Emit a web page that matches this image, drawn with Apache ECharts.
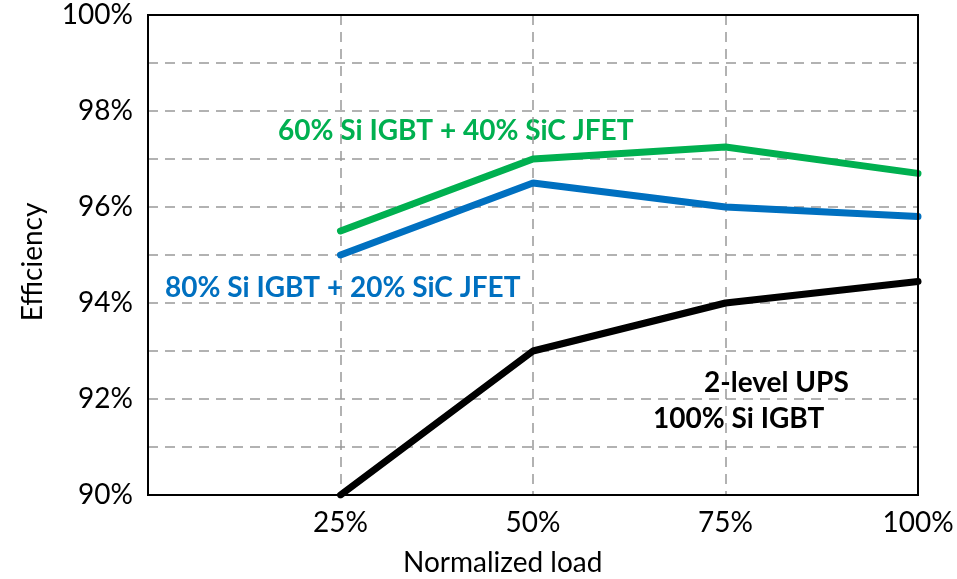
<!DOCTYPE html>
<html>
<head>
<meta charset="utf-8">
<script src="https://cdn.jsdelivr.net/npm/echarts@6/dist/echarts.min.js"></script>
<style>html,body{margin:0;padding:0;background:#fff;}#c{width:957px;height:579px;}</style>
</head>
<body>
<div id="c"></div>
<script>
var loads = [25, 50, 75, 100];
var xTicks = ['25%', '50%', '75%', '100%'];
var green = [95.5, 97.0, 97.25, 96.7];
var blue = [95.0, 96.5, 96.0, 95.8];
var black = [90.0, 93.0, 94.0, 94.45];
var yTicks = ['90%', '92%', '94%', '96%', '98%', '100%'];

function pairs(v) { return loads.map(function (x, i) { return [x, v[i]]; }); }

var chart = echarts.init(document.getElementById('c'));
var FONT = 'Lato';
var GL = 148, GT = 15, GR = 39, GB = 84;
chart.setOption({
  animation: false,
  grid: { left: GL, right: GR, top: GT, bottom: GB },
  xAxis: {
    type: 'value', min: 0, max: 100, interval: 25,
    axisLine: { show: false }, axisTick: { show: false },
    axisLabel: { fontFamily: FONT, fontSize: 28, color: '#000', margin: 14,
      formatter: function (v) { var i = loads.indexOf(v); return i >= 0 ? xTicks[i] : ''; } },
    splitLine: { show: true, lineStyle: { color: '#999', type: [10, 7], width: 1.5 } }
  },
  yAxis: {
    type: 'value', min: 90, max: 100, interval: 1,
    axisLine: { show: false }, axisTick: { show: false },
    axisLabel: { fontFamily: FONT, fontSize: 28, color: '#000', margin: 15,
      formatter: function (v) { var s = Math.round(v) + '%'; return yTicks.indexOf(s) >= 0 ? s : ''; } },
    splitLine: { show: true, lineStyle: { color: '#999', type: [10, 7], width: 1.5 } }
  },
  series: [
    { type: 'line', data: pairs(green), symbol: 'none', lineStyle: { color: '#00B050', width: 7, cap: 'round' } },
    { type: 'line', data: pairs(blue), symbol: 'none', lineStyle: { color: '#0070C0', width: 7, cap: 'round' } },
    { type: 'line', data: pairs(black), symbol: 'none', lineStyle: { color: '#000', width: 7, cap: 'round' } }
  ],
  graphic: [
    { type: 'rect', z: 100, silent: true, shape: { x: GL, y: GT, width: 957 - GL - GR, height: 579 - GT - GB },
      style: { fill: 'none', stroke: '#000', lineWidth: 2 } },
    { type: 'text', x: 278, y: 131, style: { text: '60% Si IGBT + 40% SiC JFET', fill: '#00B050', font: 'bold 28px Lato', verticalAlign: 'middle' } },
    { type: 'text', x: 165, y: 288, style: { text: '80% Si IGBT + 20% SiC JFET', fill: '#0070C0', font: 'bold 28px Lato', verticalAlign: 'middle' } },
    { type: 'text', x: 704, y: 383, style: { text: '2-level UPS', fill: '#000', font: 'bold 28px Lato', verticalAlign: 'middle' } },
    { type: 'text', x: 653, y: 419, style: { text: '100% Si IGBT', fill: '#000', font: 'bold 28px Lato', verticalAlign: 'middle' } },
    { type: 'text', x: 403, y: 563, style: { text: 'Normalized load', fill: '#000', font: '28px Lato', verticalAlign: 'middle' } },
    { type: 'text', x: 33, y: 262, rotation: Math.PI / 2, style: { text: 'Efficiency', fill: '#000', font: '28px Lato', align: 'center', verticalAlign: 'middle' } }
  ]
});
</script>
</body>
</html>
